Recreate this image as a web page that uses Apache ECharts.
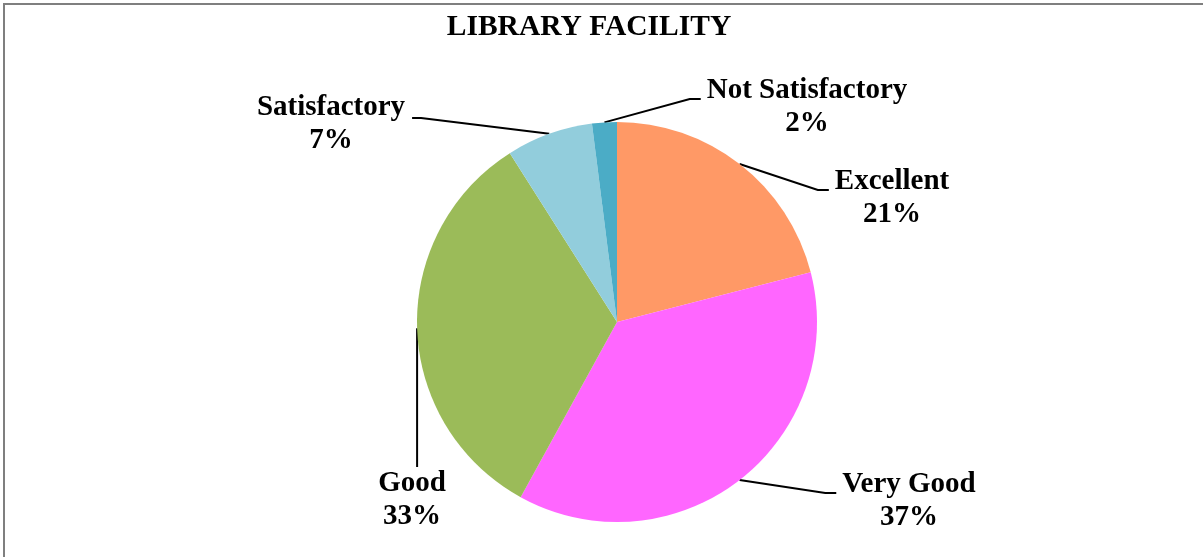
<!DOCTYPE html>
<html><head><meta charset="utf-8">
<script src="https://cdn.jsdelivr.net/npm/echarts@6/dist/echarts.min.js"></script>
<style>html,body{margin:0;padding:0;background:#fff}#c{width:1203px;height:557px}</style>
</head><body><div id="c"></div>
<script>
const categories = ['Excellent', 'Very Good', 'Good', 'Satisfactory', 'Not Satisfactory'];
const percentages = [21, 37, 33, 7, 2];
const sliceColors = ['#FF9966', '#FF66FF', '#9BBB59', '#92CDDC', '#4BACC6'];
const titleText = 'LIBRARY FACILITY';

// label placement (layout only)
const labelPlacement = [
  { x: 892, y: 198, side: 'left' },
  { x: 909, y: 501, side: 'left' },
  { x: 412, y: 500, side: 'top' },
  { x: 331, y: 124, side: 'right' },
  { x: 807, y: 107, side: 'left' }
];
const FONT = '"Liberation Serif","Times New Roman",serif';

const chart = echarts.init(document.getElementById('c'), null, { renderer: 'canvas' });
chart.setOption({
  animation: false,
  backgroundColor: '#fff',
  graphic: [
    { type: 'polyline', silent: true, shape: { points: [[4, 557], [4, 4], [1203, 4]] },
      style: { stroke: '#7f7f7f', lineWidth: 2, fill: null } },
    { type: 'text', x: 589, y: 27, silent: true,
      style: { text: titleText, font: 'bold 29.5px ' + FONT, fill: '#000', align: 'center', verticalAlign: 'middle' } }
  ],
  series: [{
    type: 'pie',
    center: [617, 322],
    radius: 200,
    startAngle: 90,
    clockwise: true,
    avoidLabelOverlap: false,
    data: categories.map((n, i) => ({ name: n, value: percentages[i], itemStyle: { color: sliceColors[i] } })),
    label: {
      show: true, position: 'outside',
      formatter: p => p.name + '\n' + Math.round(p.percent) + '%',
      fontFamily: FONT, fontWeight: 'bold', fontSize: 29, lineHeight: 33, color: '#000', align: 'center'
    },
    labelLine: { show: true, length: 20, length2: 10, lineStyle: { color: '#000', width: 2 } },
    emphasis: { disabled: true },
    labelLayout: function (p) {
      const c = labelPlacement[p.dataIndex];
      const w = p.labelRect.width, h = p.labelRect.height;
      const out = { x: c.x, y: c.y, align: 'center', verticalAlign: 'middle' };
      const pts = p.labelLinePoints;
      if (pts && pts.length) {
        const a = pts[0];
        let end, elbow;
        if (c.side === 'left') { end = [c.x - w / 2 - 6, c.y - 8]; elbow = [end[0] - 11, end[1]]; }
        else if (c.side === 'right') { end = [c.x + w / 2 + 7, c.y - 6]; elbow = [end[0] + 9, end[1]]; }
        else { end = [a[0], c.y - h / 2]; elbow = [a[0], (a[1] + end[1]) / 2]; }
        out.labelLinePoints = [[a[0], a[1]], elbow, end];
      }
      return out;
    }
  }]
});
</script>
</body></html>
